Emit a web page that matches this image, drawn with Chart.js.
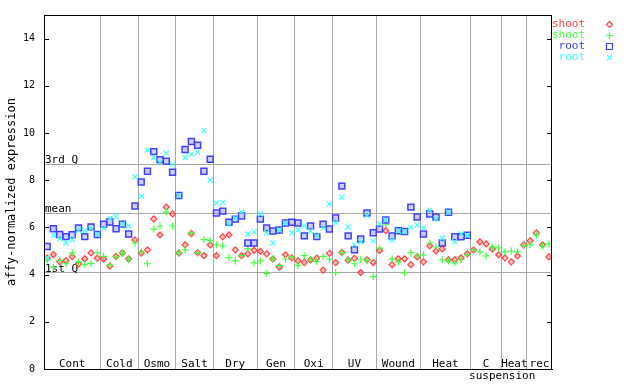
<!DOCTYPE html>
<html><head><meta charset="utf-8">
<script src="https://cdn.jsdelivr.net/npm/chart.js@4.4.1/dist/chart.umd.min.js"></script>
<style>html,body{margin:0;padding:0;background:#fff}#c{display:block}</style>
</head><body>
<canvas id="c" width="640" height="384" style="width:640px;height:384px"></canvas>
<script>
const groups = ['Cont','Cold','Osmo','Salt','Dry','Gen','Oxi','UV','Wound','Heat','C','Heat','rec'];
const groupSizes = [9,6,6,6,7,6,6,7,7,8,5,4,4];
const yTicks = [0,2,4,6,8,10,12,14];
const refLines = [8.67, 6.61, 4.08];
const refLabels = ['3rd Q','mean','1st Q'];
const seriesNames = ['shoot','shoot','root','root'];

const shootRed = [4.70,4.85,4.55,4.59,4.76,4.45,4.67,4.92,4.70,4.66,4.36,4.77,4.92,4.67,5.47,4.91,5.05,6.36,5.68,6.86,6.57,4.91,5.26,5.74,4.93,4.80,5.26,4.80,5.60,5.68,5.05,4.80,4.88,5.03,4.98,4.88,4.66,4.32,4.84,4.71,4.58,4.51,4.62,4.70,4.19,4.90,4.51,4.94,4.61,4.69,4.09,4.63,4.51,5.02,5.86,4.42,4.67,4.67,4.42,4.75,4.54,5.22,5.00,5.09,4.63,4.63,4.71,4.88,5.05,5.39,5.30,5.09,4.84,4.71,4.54,4.79,5.26,5.43,5.77,5.26,4.75];
const shootGreen = [4.61,4.32,4.60,4.46,4.92,4.53,4.43,4.47,4.92,4.77,4.41,4.75,4.91,4.66,5.34,4.96,4.46,5.93,6.06,6.65,6.06,4.92,5.05,5.77,4.92,5.48,5.45,5.26,5.22,4.72,4.58,4.80,5.09,4.50,4.58,4.05,4.67,4.38,4.66,4.75,4.39,4.80,4.65,4.55,4.77,4.65,4.09,4.93,4.63,4.46,4.63,4.60,3.91,5.12,6.14,4.67,4.54,4.08,4.93,4.79,4.84,5.34,5.17,4.63,4.58,4.50,4.63,4.84,5.05,4.96,4.79,5.17,5.13,4.96,5.00,4.96,5.22,5.26,5.68,5.22,5.30];
const rootBlue = [5.19,5.94,5.70,5.61,5.69,5.98,5.61,6.02,5.70,6.14,6.23,5.94,6.14,5.72,6.91,7.92,8.38,9.21,8.87,8.80,8.34,7.35,9.30,9.64,9.48,8.38,8.89,6.61,6.69,6.22,6.35,6.48,5.34,5.34,6.35,5.98,5.85,5.89,6.19,6.22,6.19,5.64,6.06,5.61,6.14,5.93,6.40,7.75,5.64,5.05,5.51,6.61,5.77,5.93,6.31,5.64,5.86,5.83,6.86,6.44,5.72,6.57,6.44,5.34,6.64,5.60,5.60,5.67,null,null,null,null,null,null,null,null,null,null,null,null,null];
const rootCyan = [4.71,5.67,5.52,5.35,5.49,5.87,5.88,5.95,5.71,5.97,6.38,6.46,6.14,6.06,8.14,7.32,9.27,8.96,8.77,9.14,8.68,7.35,8.97,9.10,9.18,10.11,8.00,7.03,7.07,6.14,6.40,6.65,5.72,5.81,6.57,5.77,5.34,5.89,6.19,5.77,5.89,6.06,5.85,5.65,5.98,6.99,6.21,7.28,6.02,5.27,5.39,6.51,5.43,6.14,6.31,5.47,5.86,5.83,6.00,6.10,5.98,6.73,6.36,5.55,6.64,5.39,5.72,5.67,null,null,null,null,null,null,null,null,null,null,null,null,null];

const RED='#ff4040', GREEN='#40ff40', BLUE='#4040ff', CYAN='#40ffff';
const FONT='"DejaVu Sans Mono", monospace';
const N = shootRed.length;
const boundaries = [];
{ let acc=0; groupSizes.forEach(s=>{acc+=s; boundaries.push(acc);}); boundaries.pop(); }

function pts(arr){ const out=[]; arr.forEach((v,i)=>{ if(v!==null) out.push({x:i+0.5,y:v}); }); return out; }

const deco = {
  id:'deco',
  beforeDatasetsDraw(chart){
    const {ctx, chartArea:a, scales:{x,y}} = chart;
    ctx.save();
    ctx.strokeStyle='#000'; ctx.lineWidth=1;
    yTicks.forEach(v=>{
      const py=Math.round(y.getPixelForValue(v))+0.5;
      ctx.beginPath();
      ctx.moveTo(a.left,py); ctx.lineTo(a.left+5,py);
      ctx.moveTo(a.right-5,py); ctx.lineTo(a.right,py);
      ctx.stroke();
    });
    ctx.font='11px '+FONT; ctx.fillStyle='#000'; ctx.textAlign='left'; ctx.textBaseline='alphabetic';
    refLines.forEach((v,i)=>ctx.fillText(refLabels[i], a.left+1, Math.round(y.getPixelForValue(v))-1));
    ctx.textAlign='center';
    let start=0;
    groups.forEach((g,i)=>{
      const end=start+groupSizes[i];
      const cx=x.getPixelForValue((start+end)/2);
      ctx.fillText(g,cx,a.bottom-2);
      if(g==='C') ctx.fillText('suspension',cx+16,a.bottom+10);
      start=end;
    });
    ctx.restore();
  },
  afterDraw(chart){
    const {ctx, chartArea:a} = chart;
    ctx.save();
    ctx.strokeStyle='#000'; ctx.lineWidth=1;
    ctx.strokeRect(Math.round(a.left)+0.5, Math.round(a.top)+0.5, Math.round(a.right-a.left)-1, Math.round(a.bottom-a.top));
    ctx.font='11px '+FONT; ctx.textAlign='right'; ctx.textBaseline='middle';
    const cols=[RED,GREEN,BLUE,CYAN];
    seriesNames.forEach((n,i)=>{
      const ly=24+i*11;
      ctx.fillStyle=cols[i]; ctx.fillText(n,585,ly);
      const mx=609.5, my=ly+0.5;
      ctx.strokeStyle=cols[i]; ctx.lineWidth=1.2;
      ctx.beginPath();
      if(i===0){ ctx.moveTo(mx,my-3); ctx.lineTo(mx+3,my); ctx.lineTo(mx,my+3); ctx.lineTo(mx-3,my); ctx.closePath(); }
      else if(i===1){ ctx.moveTo(mx-3.5,my); ctx.lineTo(mx+3.5,my); ctx.moveTo(mx,my-3.5); ctx.lineTo(mx,my+3.5); }
      else if(i===2){ ctx.rect(mx-3,my-3,6,6); }
      else { ctx.moveTo(mx-2.5,my-2.5); ctx.lineTo(mx+2.5,my+2.5); ctx.moveTo(mx+2.5,my-2.5); ctx.lineTo(mx-2.5,my+2.5); }
      ctx.stroke();
    });
    ctx.restore();
  }
};

Chart.defaults.font.family = FONT;
new Chart(document.getElementById('c'), {
  type:'scatter',
  data:{datasets:[
    {label:'root', data:pts(rootCyan), pointStyle:'crossRot', pointRadius:3.6, borderColor:CYAN, backgroundColor:CYAN, pointBorderWidth:1.2, order:0},
    {label:'root', data:pts(rootBlue), pointStyle:'rect', pointRadius:4.2, borderColor:BLUE, backgroundColor:'rgba(64,64,255,0.25)', pointBorderWidth:1.5, order:1},
    {label:'shoot', data:pts(shootGreen), pointStyle:'cross', pointRadius:3.5, borderColor:GREEN, backgroundColor:GREEN, pointBorderWidth:1.2, order:2},
    {label:'shoot', data:pts(shootRed), pointStyle:'rectRot', pointRadius:3, borderColor:RED, backgroundColor:'rgba(255,64,64,0.3)', pointBorderWidth:1.2, order:3}
  ]},
  options:{
    animation:false, responsive:false, devicePixelRatio:1,
    layout:{padding:{left:0,right:88,top:13,bottom:0}},
    plugins:{legend:{display:false}, tooltip:{enabled:false}},
    scales:{
      x:{type:'linear', min:0, max:N,
        afterBuildTicks:s=>{s.ticks=boundaries.map(v=>({value:v}));},
        grid:{color:'#a8a8a8', drawTicks:false, lineWidth:1},
        border:{display:true,color:'#000'},
        ticks:{display:false},
        afterFit:s=>{s.height=15;}},
      y:{type:'linear', min:0, max:15,
        afterBuildTicks:s=>{s.ticks=yTicks.map(v=>({value:v}));},
        grid:{display:false, drawTicks:false},
        border:{display:true,color:'#000'},
        ticks:{font:{family:FONT,size:10},color:'#000',padding:9},
        title:{display:true,text:'affy-normalized expression',font:{family:FONT,size:12},color:'#000',padding:{top:5,bottom:0}},
        afterFit:s=>{s.width=44;}},
      y2:{type:'linear', position:'right', min:0, max:15,
        afterBuildTicks:s=>{s.ticks=refLines.map(v=>({value:v}));},
        grid:{color:'#a8a8a8', drawTicks:false, lineWidth:1},
        border:{display:false},
        ticks:{display:false},
        afterFit:s=>{s.width=0;}}
    }
  },
  plugins:[deco]
});
</script>
</body></html>
